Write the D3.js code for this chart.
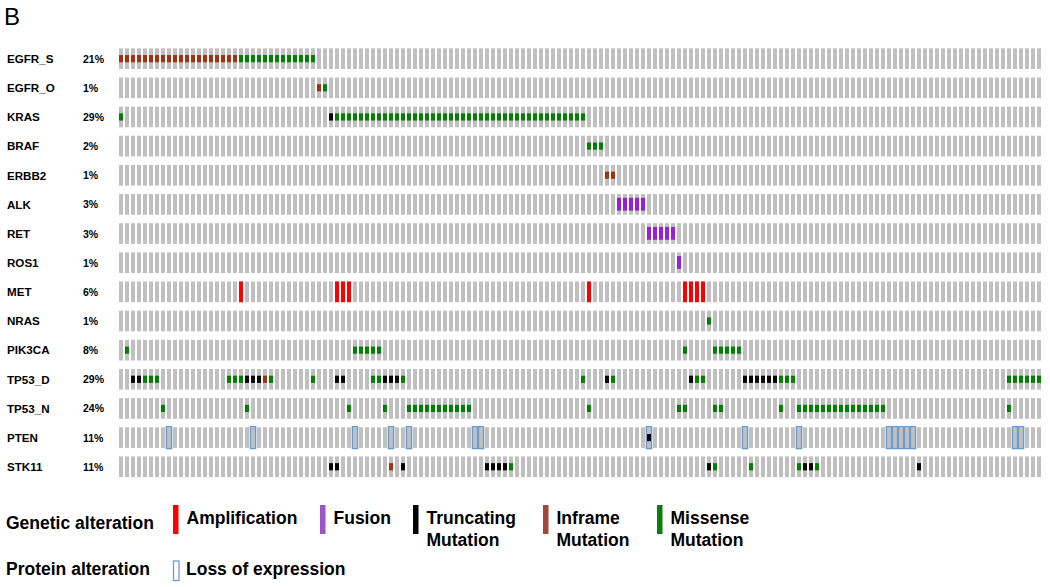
<!DOCTYPE html>
<html>
<head>
<meta charset="utf-8">
<script src="https://cdn.jsdelivr.net/npm/d3@7"></script>
<style>
  html, body { margin: 0; padding: 0; background: #fff; }
  svg { display: block; font-family: "Liberation Sans", Arial, sans-serif; }
</style>
</head>
<body>
<svg id="chart" width="1050" height="587"></svg>
<script>
// ---------------- data ----------------
const sampleCount = 154;
const genes = ["EGFR_S","EGFR_O","KRAS","BRAF","ERBB2","ALK","RET","ROS1","MET","NRAS","PIK3CA","TP53_D","TP53_N","PTEN","STK11"];
const pctLabels = ["21%","1%","29%","2%","1%","3%","3%","1%","6%","1%","8%","29%","24%","11%","11%"];

const amplification = [
  ["MET", [20,36,37,38,78,94,95,96,97]]
];
const fusion = [
  ["ALK", [83,84,85,86,87]],
  ["RET", [88,89,90,91,92]],
  ["ROS1", [93]]
];
const truncating = [
  ["KRAS", [35]],
  ["TP53_D", [2,3,21,22,23,36,37,44,45,46,81,95,104,105,106,107,108,109]],
  ["PTEN", [88]],
  ["STK11", [35,36,47,61,62,63,64,98,114,115,133]]
];
const inframe = [
  ["EGFR_S", [0,1,2,3,4,5,6,7,8,9,10,11,12,13,14,15,16,17,18,19]],
  ["EGFR_O", [33]],
  ["ERBB2", [81,82]],
  ["TP53_D", [24]],
  ["STK11", [45]]
];
const missense = [
  ["EGFR_S", [20,21,22,23,24,25,26,27,28,29,30,31,32]],
  ["EGFR_O", [34]],
  ["KRAS", [0,36,37,38,39,40,41,42,43,44,45,46,47,48,49,50,51,52,53,54,55,56,57,58,59,60,61,62,63,64,65,66,67,68,69,70,71,72,73,74,75,76,77]],
  ["BRAF", [78,79,80]],
  ["NRAS", [98]],
  ["PIK3CA", [1,39,40,41,42,43,94,99,100,101,102,103]],
  ["TP53_D", [4,5,6,18,19,20,25,32,42,43,47,77,82,96,97,110,111,112,148,149,150,151,152,153]],
  ["TP53_N", [7,21,38,44,48,49,50,51,52,53,54,55,56,57,58,78,93,94,99,100,110,113,114,115,116,117,118,119,120,121,122,123,124,125,126,127,148]],
  ["STK11", [65,99,105,113,116]]
];
const lossOfExpression = [
  ["PTEN", [8,22,39,45,48,59,60,88,104,113,128,129,130,131,132,149,150]]
];

const legendGenetic = [
  {label: ["Amplification"], color: "#ff0000"},
  {label: ["Fusion"], color: "#9b55c9"},
  {label: ["Truncating", "Mutation"], color: "#000000"},
  {label: ["Inframe", "Mutation"], color: "#a3463d"},
  {label: ["Missense", "Mutation"], color: "#0b7d0b"}
];

// ---------------- styles ----------------
const colors = {
  gray: "#c0c0c0",
  amp: "#ff0000",
  fusion: "#9a1ed8",
  trunc: "#000000",
  inframe: "#a0330f",
  missense: "#008000",
  loss: "#6a9bd0"
};

const svg = d3.select("#chart");

const x = d3.scaleBand()
  .domain(d3.range(sampleCount))
  .range([119, 1041])
  .paddingInner(1/3)
  .paddingOuter(0);

const y = d3.scaleBand()
  .domain(genes)
  .range([48.3, 477.1])
  .paddingInner(0.29)
  .paddingOuter(0);

const bw = x.bandwidth();
const bh = y.bandwidth();

// Title letter
svg.append("text")
  .attr("x", 4).attr("y", 25)
  .attr("font-size", 24)
  .attr("fill", "#000")
  .text("B");

// Row labels
const labels = svg.append("g");
genes.forEach((g, i) => {
  const cy = y(g) + bh / 2;
  labels.append("text")
    .attr("x", 7).attr("y", cy + 4.3)
    .attr("font-size", 11.6).attr("font-weight", "bold")
    .text(g);
  labels.append("text")
    .attr("x", 83).attr("y", cy + 4.0)
    .attr("font-size", 10.5).attr("font-weight", "bold")
    .text(pctLabels[i]);
});

// Background gray cells
const cells = [];
genes.forEach(g => d3.range(sampleCount).forEach(s => cells.push({g, s})));
svg.append("g").selectAll("rect").data(cells).join("rect")
  .attr("x", d => x(d.s)).attr("y", d => y(d.g))
  .attr("width", bw).attr("height", bh)
  .attr("fill", colors.gray);

function flatten(list) {
  const out = [];
  list.forEach(([g, cols]) => cols.forEach(s => out.push({g, s})));
  return out;
}

// Loss of expression outlines
svg.append("g").selectAll("rect").data(flatten(lossOfExpression)).join("rect")
  .attr("x", d => x(d.s) - 0.6).attr("y", d => y(d.g) - 0.6)
  .attr("width", bw + 1.2).attr("height", bh + 1.2)
  .attr("fill", "none")
  .attr("stroke", colors.loss).attr("stroke-width", 1.4);

// Amplification (full height)
svg.append("g").selectAll("rect").data(flatten(amplification)).join("rect")
  .attr("x", d => x(d.s)).attr("y", d => y(d.g))
  .attr("width", bw).attr("height", bh)
  .attr("fill", colors.amp);

// Fusion (mid height)
svg.append("g").selectAll("rect").data(flatten(fusion)).join("rect")
  .attr("x", d => x(d.s)).attr("y", d => y(d.g) + bh * 0.18)
  .attr("width", bw).attr("height", bh * 0.62)
  .attr("fill", colors.fusion);

// Mutations (small centered)
function drawSmall(list, color) {
  svg.append("g").selectAll("rect").data(flatten(list)).join("rect")
    .attr("x", d => x(d.s)).attr("y", d => y(d.g) + bh / 2 - 3.6)
    .attr("width", bw).attr("height", 7.2)
    .attr("fill", color);
}
drawSmall(truncating, colors.trunc);
drawSmall(inframe, colors.inframe);
drawSmall(missense, colors.missense);

// ---------------- legend ----------------
const lg = svg.append("g");
lg.append("text")
  .attr("x", 6).attr("y", 529)
  .attr("font-size", 17.5).attr("font-weight", "bold")
  .text("Genetic alteration");

const legendX = [173, 320, 413, 543, 657];
legendGenetic.forEach((item, i) => {
  lg.append("rect")
    .attr("x", legendX[i]).attr("y", 505)
    .attr("width", 5.5).attr("height", 29)
    .attr("fill", item.color);
  item.label.forEach((line, j) => {
    lg.append("text")
      .attr("x", legendX[i] + 13.5).attr("y", 524 + j * 21.5)
      .attr("font-size", 17.5).attr("font-weight", "bold")
      .text(line);
  });
});

lg.append("text")
  .attr("x", 6).attr("y", 575)
  .attr("font-size", 17.5).attr("font-weight", "bold")
  .text("Protein alteration");
lg.append("rect")
  .attr("x", 173.5).attr("y", 561)
  .attr("width", 5.5).attr("height", 19.5)
  .attr("fill", "#fff")
  .attr("stroke", colors.loss).attr("stroke-width", 1.3);
lg.append("text")
  .attr("x", 186).attr("y", 575)
  .attr("font-size", 17.5).attr("font-weight", "bold")
  .text("Loss of expression");
</script>
</body>
</html>
